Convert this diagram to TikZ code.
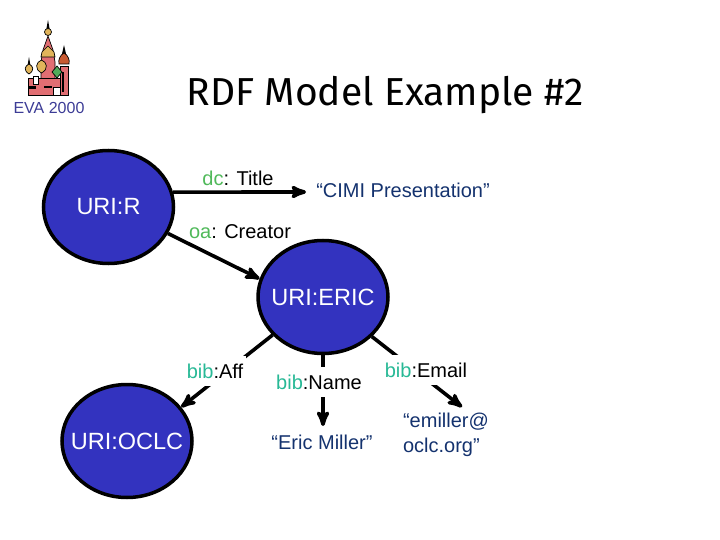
\documentclass[tikz,border=0pt]{standalone}
\usepackage{fontspec}
\setmainfont{Liberation Sans}
\newfontfamily\titlefont{Fira Sans}
\usetikzlibrary{shapes,positioning,arrows}

\definecolor{uriblue}{RGB}{51,51,191}
\definecolor{litblue}{RGB}{20,50,110}
\definecolor{dcgreen}{RGB}{80,185,90}
\definecolor{bibgreen}{RGB}{40,185,150}
\definecolor{evablue}{RGB}{60,60,150}
\definecolor{domepink}{RGB}{225,110,115}
\definecolor{domegold}{RGB}{225,180,90}
\definecolor{domegreen}{RGB}{80,170,90}
\definecolor{domered}{RGB}{200,90,50}

\tikzset{
  urinode/.style={draw=black,line width=3.5pt,fill=uriblue,ellipse,minimum width=130pt,minimum height=113pt,inner ysep=0pt,inner xsep=-30pt,text=white,font=\fontsize{23.5}{28}\selectfont},
  proplabel/.style={font=\fontsize{20}{24}\selectfont,inner sep=0pt},
  gaplabel/.style={proplabel,fill=white,inner ysep=8pt,inner xsep=3pt},
  litnode/.style={text=litblue,font=\fontsize{20}{25}\selectfont,align=left,inner sep=0pt},
  link/.style={->,>=stealth',line width=3.6pt},
  towerline/.style={draw=black,line width=.7pt},
}

\begin{document}
\begin{tikzpicture}[x=1pt,y=-1pt]
    \useasboundingbox (0,0) rectangle (720,540);

    % logo
    \fill[black] (48,20) -- (50,31) -- (46,31) -- cycle;
    \fill[black] (64,45) -- (66.5,56) -- (61.5,56) -- cycle;
    \fill[black] (29,57) -- (30.5,66) -- (27.5,66) -- cycle;
    \path[towerline,fill=domepink] (48,36) -- (53,50) -- (55,62) -- (55,95) -- (41,95) -- (41,62) -- (43,50) -- cycle;
    \path[towerline,fill=domegold] (42,52) -- (48,46) -- (54,52) -- (55,57) -- (41,57) -- cycle;
    \path[towerline,fill=domegold] (48,32) circle (3.5);
    \path[towerline,fill=domepink] (28,78) rectangle (68,95);
    \path[towerline,fill=domepink] (60,66) rectangle (68,95);
    \path[towerline,fill=white] (33,76) rectangle (38,84);
    \fill[black] (29,86) rectangle (36,89);
    \fill[black] (44,86) rectangle (52,88);
    \fill[black] (62,72) rectangle (64,92);
    \path[towerline,fill=domegold] (29,64) .. controls (33,66) and (35,70) .. (29,74) .. controls (23,70) and (25,66) .. (29,64) -- cycle;
    \path[towerline,fill=domegold] (41.5,60) .. controls (47,62) and (49,69) .. (41.5,73) .. controls (34,69) and (36,62) .. (41.5,60) -- cycle;
    \path[towerline,fill=domered] (64,53) .. controls (68,55) and (70,60) .. (69,64) -- (59,64) .. controls (58,60) and (60,55) .. (64,53) -- cycle;
    \path[towerline,fill=domegreen] (57,66) -- (62,72) -- (57,78) -- (52,72) -- cycle;
    \path[towerline,fill=white] (53,87) rectangle (60,95);

    \node[text=evablue,font=\fontsize{16}{19}\selectfont,inner sep=0pt] (eva) at (49,108) {EVA 2000};
    \node[font=\titlefont\fontsize{39}{46}\selectfont,inner sep=0pt] (heading) at (385,95) {RDF Model Example \#2};

    \node[urinode] (uriR) at (108.5,207) {URI:R};
    \node[urinode] (uriE) at (323,297) {URI:ERIC};
    \node[urinode] (uriO) at (127,441) {URI:OCLC};

    \node[litnode] (cimi) at (403,190) {``CIMI Presentation''};
    \node[litnode] (miller) at (322,442) {``Eric Miller''};
    \node[litnode] (emiller) at (446,435) {``emiller@\\oclc.org''};
    \coordinate (titleEnd) at (306,192);
    \coordinate (millerEnd) at (323,426);
    \coordinate (emailEnd) at (462,407);

    \path
    (uriR.13) edge[link] (titleEnd)
    (uriR.-24) edge[link] (uriE.164)
    (uriE.-143) edge[link] (uriO.32)
    (uriE) edge[link] (millerEnd)
    (uriE.-39) edge[link] (emailEnd);

    \node[proplabel] (title) at (238,178) {\textcolor{dcgreen}{dc}: Title};
    \node[proplabel] (creator) at (240,232) {\textcolor{dcgreen}{oa}: Creator};
    \node[gaplabel] (aff) at (215,371) {\textcolor{bibgreen}{bib}:Aff};
    \node[gaplabel] (name) at (319,382) {\textcolor{bibgreen}{bib}:Name};
    \node[gaplabel] (email) at (426,370) {\textcolor{bibgreen}{bib}:Email};
\end{tikzpicture}
\end{document}
